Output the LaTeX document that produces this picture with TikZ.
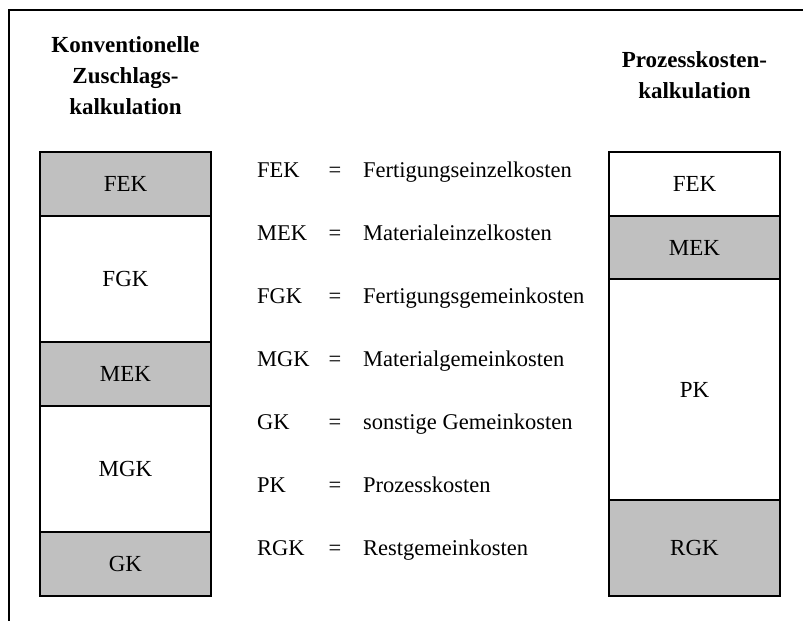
\documentclass[tikz,border=0pt]{standalone}
\usepackage{fontspec}
\setmainfont{Liberation Serif}
\usetikzlibrary{positioning}
\definecolor{boxgray}{RGB}{192,192,192}
\tikzset{
  seg/.style={draw, line width=2pt, minimum width=171pt, inner sep=0pt, outer sep=0pt,
    font=\fontsize{23}{28}\selectfont},
  grayseg/.style={seg, fill=boxgray},
  head/.style={align=center, inner sep=0pt, font=\fontsize{23}{31}\selectfont\bfseries},
  legend/.style={inner sep=0pt, font=\fontsize{22.5}{27}\selectfont}
}

\begin{document}
\begin{tikzpicture}[x=1pt,y=1pt]
  \useasboundingbox (0,0) rectangle (803,621);
  \draw[line width=2.5pt] (803,611) -- (9,611) -- (9,0);
  % konventionelle Zuschlagskalkulation
  \node[head] (lhead) at (125.5,545) {Konventionelle\\Zuschlags-\\kalkulation};
  \node[grayseg, minimum height=64pt] (lfek) at (125.5,437) {FEK};
  \node[seg, minimum height=126pt, below=0pt of lfek] (lfgk) {FGK};
  \node[grayseg, minimum height=64pt, below=0pt of lfgk] (lmek) {MEK};
  \node[seg, minimum height=126pt, below=0pt of lmek] (lmgk) {MGK};
  \node[grayseg, minimum height=64pt, below=0pt of lmgk] (lgk) {GK};
  % Prozesskostenkalkulation
  \node[head] (rhead) at (694.5,546) {Prozesskosten-\\kalkulation};
  \node[seg, minimum height=64pt] (rfek) at (694.5,437) {FEK};
  \node[grayseg, minimum height=63pt, below=0pt of rfek] (rmek) {MEK};
  \node[seg, minimum height=221pt, below=0pt of rmek] (rpk) {PK};
  \node[grayseg, minimum height=96pt, below=0pt of rpk] (rrgk) {RGK};
  % Legende
  \foreach \abbr/\txt [count=\i from 0] in {FEK/Fertigungseinzelkosten,
      MEK/Materialeinzelkosten, FGK/Fertigungsgemeinkosten,
      MGK/Materialgemeinkosten, GK/sonstige Gemeinkosten,
      PK/Prozesskosten, RGK/Restgemeinkosten} {
    \node[legend, anchor=base west] (abbr\i) at (257,443.5-63*\i) {\abbr};
    \node[legend, anchor=base] (eq\i) at (335,443.5-63*\i) {=};
    \node[legend, anchor=base west] (def\i) at (363,443.5-63*\i) {\txt};
  }
\end{tikzpicture}
\end{document}
